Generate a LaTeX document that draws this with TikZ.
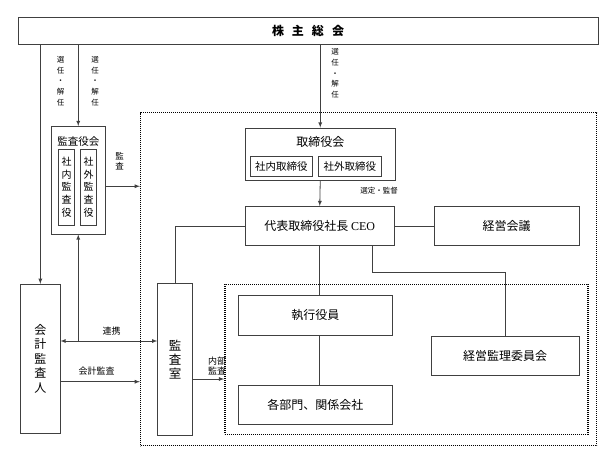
\documentclass[tikz,border=0pt]{standalone}
\usepackage{fontspec}
\setmainfont{Noto Sans CJK JP}
\newfontfamily\latinfont{Liberation Serif}

\begin{document}
\begin{tikzpicture}[x=1pt,y=-1pt,>=latex,
  box/.style={draw=black!75,line width=0.9pt,inner sep=0pt},
  bigbox/.style={box,font=\fontsize{12}{14}\selectfont},
  dotbox/.style={draw=black,line width=1.4pt,dash pattern=on 1.1pt off 0.9pt},
  conn/.style={draw=black!75,line width=0.8pt},
  lbl/.style={inner sep=0pt,align=center,font=\fontsize{9}{10.3}\selectfont},
  vlbl/.style={inner sep=0pt,align=center,font=\fontsize{7.5}{10.7}\selectfont}]

\useasboundingbox (0,0) rectangle (610,463);

% dotted frames
\node[dotbox,minimum width=456,minimum height=333] (soshiki) at (368.6,279.1) {};
\node[dotbox,minimum width=363,minimum height=150] (gyomu) at (406.3,359.2) {};

\node[bigbox,minimum width=580,minimum height=27] (soukai) at (308,30.5)
  {\bfseries 株\hspace{8pt}主\hspace{8pt}総\hspace{8pt}会};

% kansayakukai
\node[box,minimum width=54.5,minimum height=107.5] (kansayakukai) at (78.25,180.25) {};
\node[inner sep=0pt,font=\fontsize{10.5}{12}\selectfont] (kansayakukaiTitle) at (78.25,142) {監査役会};
\foreach \name/\x/\txt in {shanaiKansa/66.7/社\\内\\監\\査\\役, shagaiKansa/88.7/社\\外\\監\\査\\役}
  \node[box,minimum width=16,minimum height=76,align=center,
        font=\fontsize{10}{12.7}\selectfont] (\name) at (\x,187) {\txt};

% torishimariyakukai
\node[box,minimum width=150.5,minimum height=52.5] (torishimari) at (320.25,154.25) {};
\node[inner sep=0pt,font=\fontsize{12}{14}\selectfont] (torishimariTitle) at (320.25,142) {取締役会};
\node[box,minimum width=61.3,minimum height=20,font=\fontsize{10.5}{12}\selectfont] (shanaiTori) at (281.35,166.7) {社内取締役};
\node[box,minimum width=63.7,minimum height=20,font=\fontsize{10.5}{12}\selectfont] (shagaiTori) at (349.8,166.7) {社外取締役};

\node[bigbox,minimum width=149.5,minimum height=39] (CEO) at (319.75,226) {代表取締役社長\ {\latinfont CEO}};
\node[bigbox,minimum width=145,minimum height=39] (keieikaigi) at (506.5,226) {経営会議};
\node[bigbox,minimum width=154,minimum height=39.3] (shikkou) at (315.3,315.35) {執行役員};
\node[bigbox,minimum width=154,minimum height=39.3] (kakubumon) at (315.3,404.65) {各部門、関係会社};
\node[bigbox,minimum width=147.7,minimum height=39] (keieikanri) at (505.15,355.5) {経営監理委員会};
\node[bigbox,minimum width=39.3,minimum height=149,align=center,
      font=\fontsize{12}{14.5}\selectfont] (kaikei) at (40.35,358.8) {会\\計\\監\\査\\人};
\node[bigbox,minimum width=35,minimum height=152.4,align=center,
      font=\fontsize{12.5}{14}\selectfont] (kansashitsu) at (175.2,359.5) {監\\査\\室};

% connectors
\draw[conn,->] (kaikei.north |- soukai.south) -- (kaikei.north);
\draw[conn,->] (kansayakukai.north |- soukai.south) -- (kansayakukai.north);
\draw[conn,->] (torishimari.north |- soukai.south) -- (torishimari.north);
\draw[conn,->] (torishimari.south) -- (CEO.north);
\draw[conn,->] ([yshift=-6pt]kansayakukai.east) coordinate (kansaA) -- (kansaA -| soshiki.west);
\draw[conn] (CEO.west) -| (kansashitsu.north);
\draw[conn] (CEO.east) -- (keieikaigi.west);
\draw[conn] (CEO.south) -- (CEO.south |- shikkou.north);
\draw[conn] (shikkou.south -| CEO.south) -- (kakubumon.north -| CEO.south);
\draw[conn] ([xshift=53pt]CEO.south) -- ++(0,26.5) -| (keieikanri.north);
\draw[conn,<->] ([yshift=17.8pt]kaikei.east) coordinate (renkeiA) -- (renkeiA -| kansashitsu.west);
\draw[conn,->] (renkeiA -| kansayakukai.south) -- (kansayakukai.south);
\draw[conn,->] ([yshift=-22.9pt]kaikei.east) coordinate (kaikeiA) -- (kaikeiA -| soshiki.west);
\draw[conn,->] ([yshift=-19.5pt]kansashitsu.east) coordinate (naibuA) -- (naibuA -| gyomu.west);

% labels
\node[vlbl] (senninA) at (60.7,81) {選\\任\\・\\解\\任};
\node[vlbl] (senninB) at (95,81) {選\\任\\・\\解\\任};
\node[vlbl] (senninC) at (335,73.5) {選\\任\\・\\解\\任};
\node[vlbl,font=\fontsize{8.5}{10}\selectfont] (kansaLbl) at (119.5,161) {監\\査};
\node[lbl,font=\fontsize{7.5}{9}\selectfont] (senteiLbl) at (379,191) {選定・監督};
\node[lbl] (renkeiLbl) at (111.7,331) {連携};
\node[lbl] (kaikeiLbl) at (96.7,371) {会計監査};
\node[lbl] (naibuLbl) at (217,366) {内部\\監査};

\end{tikzpicture}
\end{document}
